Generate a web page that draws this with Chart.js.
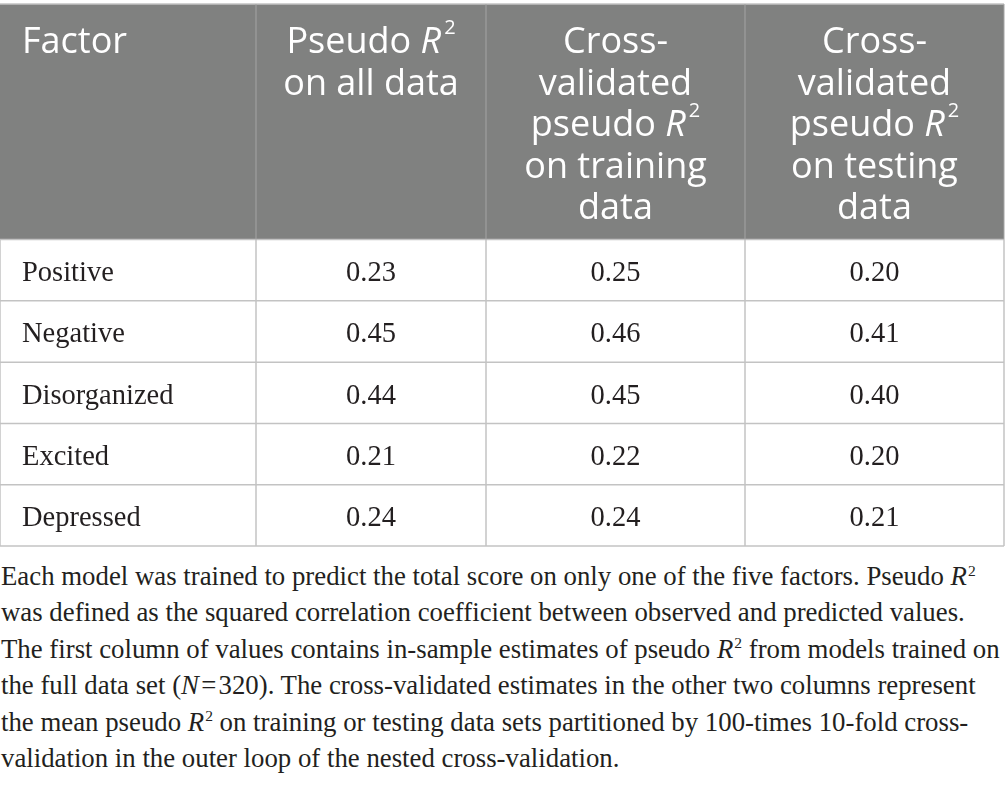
<!DOCTYPE html>
<html>
<head>
<meta charset="utf-8">
<script src="https://cdn.jsdelivr.net/npm/chart.js@4.4.1/dist/chart.umd.min.js"></script>
<style>
  html, body { margin: 0; padding: 0; background: #fff; width: 1005px; height: 786px; overflow: hidden; }
  #wrap { position: absolute; left: 0; top: 0; width: 1005px; height: 548px; }
  #note { position: absolute; left: 1px; top: 558px; width: 1004px;
          font-family: "Liberation Serif", serif; font-size: 26.8px; color: #231f20; }
  #note div { height: 36.4px; line-height: 36.4px; white-space: nowrap; }
  #note sup { font-size: 0.58em; line-height: 0; vertical-align: 0.6em; margin-left: 1px; }
</style>
</head>
<body>
<div id="wrap"><canvas id="myChart"></canvas></div>
<div id="note">
  <div>Each model was trained to predict the total score on only one of the five factors. Pseudo <i>R</i><sup>2</sup></div>
  <div>was defined as the squared correlation coefficient between observed and predicted values.</div>
  <div>The first column of values contains in-sample estimates of pseudo <i>R</i><sup>2</sup> from models trained on</div>
  <div>the full data set (<i>N</i>&#8202;=&#8202;320). The cross-validated estimates in the other two columns represent</div>
  <div>the mean pseudo <i>R</i><sup>2</sup> on training or testing data sets partitioned by 100-times 10-fold cross-</div>
  <div>validation in the outer loop of the nested cross-validation.</div>
</div>
<script>
// The table data: one row per factor, one array per column of values.
var factors = ['Positive', 'Negative', 'Disorganized', 'Excited', 'Depressed'];
var allData = [0.23, 0.45, 0.44, 0.21, 0.24];
var cvTraining = [0.25, 0.46, 0.45, 0.22, 0.24];
var cvTesting = [0.20, 0.41, 0.40, 0.20, 0.21];

// Header lines for each column. {R} means italic R with a superscript 2.
var headers = [
  ['Factor'],
  ['Pseudo {R}', 'on all data'],
  ['Cross-', 'validated', 'pseudo {R}', 'on training', 'data'],
  ['Cross-', 'validated', 'pseudo {R}', 'on testing', 'data']
];

// Layout of the grid (in scale units), kept apart from the data.
var colWidths = [256, 230, 259, 259];
var headHeight = 236;
var rowHeight = 61.4;

var colEdges = [0];
colWidths.forEach(function (w) { colEdges.push(colEdges[colEdges.length - 1] + w); });
var rowEdges = [0, headHeight];
factors.forEach(function () { rowEdges.push(rowEdges[rowEdges.length - 1] + rowHeight); });

function colCenter(c) { return (colEdges[c] + colEdges[c + 1]) / 2; }
function rowCenter(r) { return (rowEdges[r + 1] + rowEdges[r + 2]) / 2; }

var valueColumns = [allData, cvTraining, cvTesting];
var datasets = valueColumns.map(function (values, j) {
  return {
    label: headers[j + 1].join(' '),
    data: values.map(function (v, i) { return { x: colCenter(j + 1), y: rowCenter(i), v: v }; }),
    pointRadius: 0
  };
});
// factor names sit in the first column
datasets.push({
  label: 'Factor',
  data: factors.map(function (f, i) { return { x: colEdges[0], y: rowCenter(i), v: f }; }),
  pointRadius: 0
});

var HEAD_FONT = '"Open Sans", sans-serif';
var BODY_FONT = '"Liberation Serif", serif';

// draws "text" where {R} becomes italic R with superscript 2
function drawRich(ctx, text, x, y, size, align) {
  var parts = [];
  var bits = text.split('{R}');
  bits.forEach(function (b, k) {
    if (b) parts.push({ t: b, f: size + 'px ' + HEAD_FONT, dy: 0, gap: 0 });
    if (k < bits.length - 1) {
      parts.push({ t: 'R', f: 'italic ' + size + 'px ' + HEAD_FONT, dy: 0, gap: 0 });
      parts.push({ t: '2', f: Math.round(size * 0.56) + 'px ' + HEAD_FONT, dy: -size * 0.53, gap: 3 });
    }
  });
  var total = 0;
  parts.forEach(function (p) { ctx.font = p.f; p.w = ctx.measureText(p.t).width; total += p.w + p.gap; });
  var cx = align === 'left' ? x : x - total / 2;
  ctx.textAlign = 'left';
  parts.forEach(function (p) {
    ctx.font = p.f;
    cx += p.gap;
    ctx.fillText(p.t, cx, y + p.dy);
    cx += p.w;
  });
}

var tablePlugin = {
  id: 'tableGrid',
  beforeDatasetsDraw: function (chart) {
    var ctx = chart.ctx;
    var xs = chart.scales.x, ys = chart.scales.y;
    var left = xs.getPixelForValue(colEdges[0]);
    var right = xs.getPixelForValue(colEdges[colEdges.length - 1]);
    var top = ys.getPixelForValue(rowEdges[0]);
    var headBottom = ys.getPixelForValue(rowEdges[1]);
    var bottom = ys.getPixelForValue(rowEdges[rowEdges.length - 1]);
    ctx.save();

    // header background
    ctx.fillStyle = '#808180';
    ctx.fillRect(left, top, right - left, headBottom - top);

    // body grid
    ctx.strokeStyle = '#c3c3c3';
    ctx.lineWidth = 1.5;
    rowEdges.forEach(function (r) {
      var y = ys.getPixelForValue(r);
      ctx.beginPath(); ctx.moveTo(left, y); ctx.lineTo(right, y); ctx.stroke();
    });
    colEdges.forEach(function (c) {
      var x = xs.getPixelForValue(c);
      ctx.beginPath(); ctx.moveTo(x, headBottom); ctx.lineTo(x, bottom); ctx.stroke();
    });
    // header separators
    ctx.strokeStyle = '#a4a4a4';
    ctx.lineWidth = 1;
    colEdges.slice(1).forEach(function (c) {
      var x = xs.getPixelForValue(c);
      ctx.beginPath(); ctx.moveTo(x, top); ctx.lineTo(x, headBottom); ctx.stroke();
    });

    // header text
    ctx.fillStyle = '#ffffff';
    ctx.textBaseline = 'alphabetic';
    headers.forEach(function (lines, c) {
      lines.forEach(function (line, k) {
        var y = top + 49 + k * 41.5;
        if (c === 0) drawRich(ctx, line, xs.getPixelForValue(colEdges[0]) + 22, y, 36, 'left');
        else drawRich(ctx, line, xs.getPixelForValue(colCenter(c)), y, 36, 'center');
      });
    });
    ctx.restore();
  },
  afterDatasetsDraw: function (chart) {
    var ctx = chart.ctx;
    ctx.save();
    ctx.fillStyle = '#231f20';
    ctx.font = '28.5px ' + BODY_FONT;
    ctx.textBaseline = 'alphabetic';
    chart.data.datasets.forEach(function (ds, d) {
      var meta = chart.getDatasetMeta(d);
      meta.data.forEach(function (pt, i) {
        var v = ds.data[i].v;
        if (typeof v === 'number') {
          ctx.textAlign = 'center';
          ctx.fillText(v.toFixed(2), pt.x, pt.y + 11);
        } else {
          ctx.textAlign = 'left';
          ctx.fillText(v, pt.x + 22, pt.y + 11);
        }
      });
    });
    ctx.restore();
  }
};

var ctx = document.getElementById('myChart');
var myChart = new Chart(ctx, {
  type: 'scatter',
  data: { datasets: datasets },
  options: {
    responsive: true,
    maintainAspectRatio: false,
    animation: false,
    layout: { padding: { top: 4, left: 0, right: 1, bottom: 2 } },
    plugins: { legend: { display: false }, tooltip: { enabled: false } },
    scales: {
      x: { type: 'linear', display: false, min: colEdges[0], max: colEdges[colEdges.length - 1] },
      y: { type: 'linear', display: false, reverse: true, min: rowEdges[0], max: rowEdges[rowEdges.length - 1] }
    }
  },
  plugins: [tablePlugin]
});
</script>
</body>
</html>
